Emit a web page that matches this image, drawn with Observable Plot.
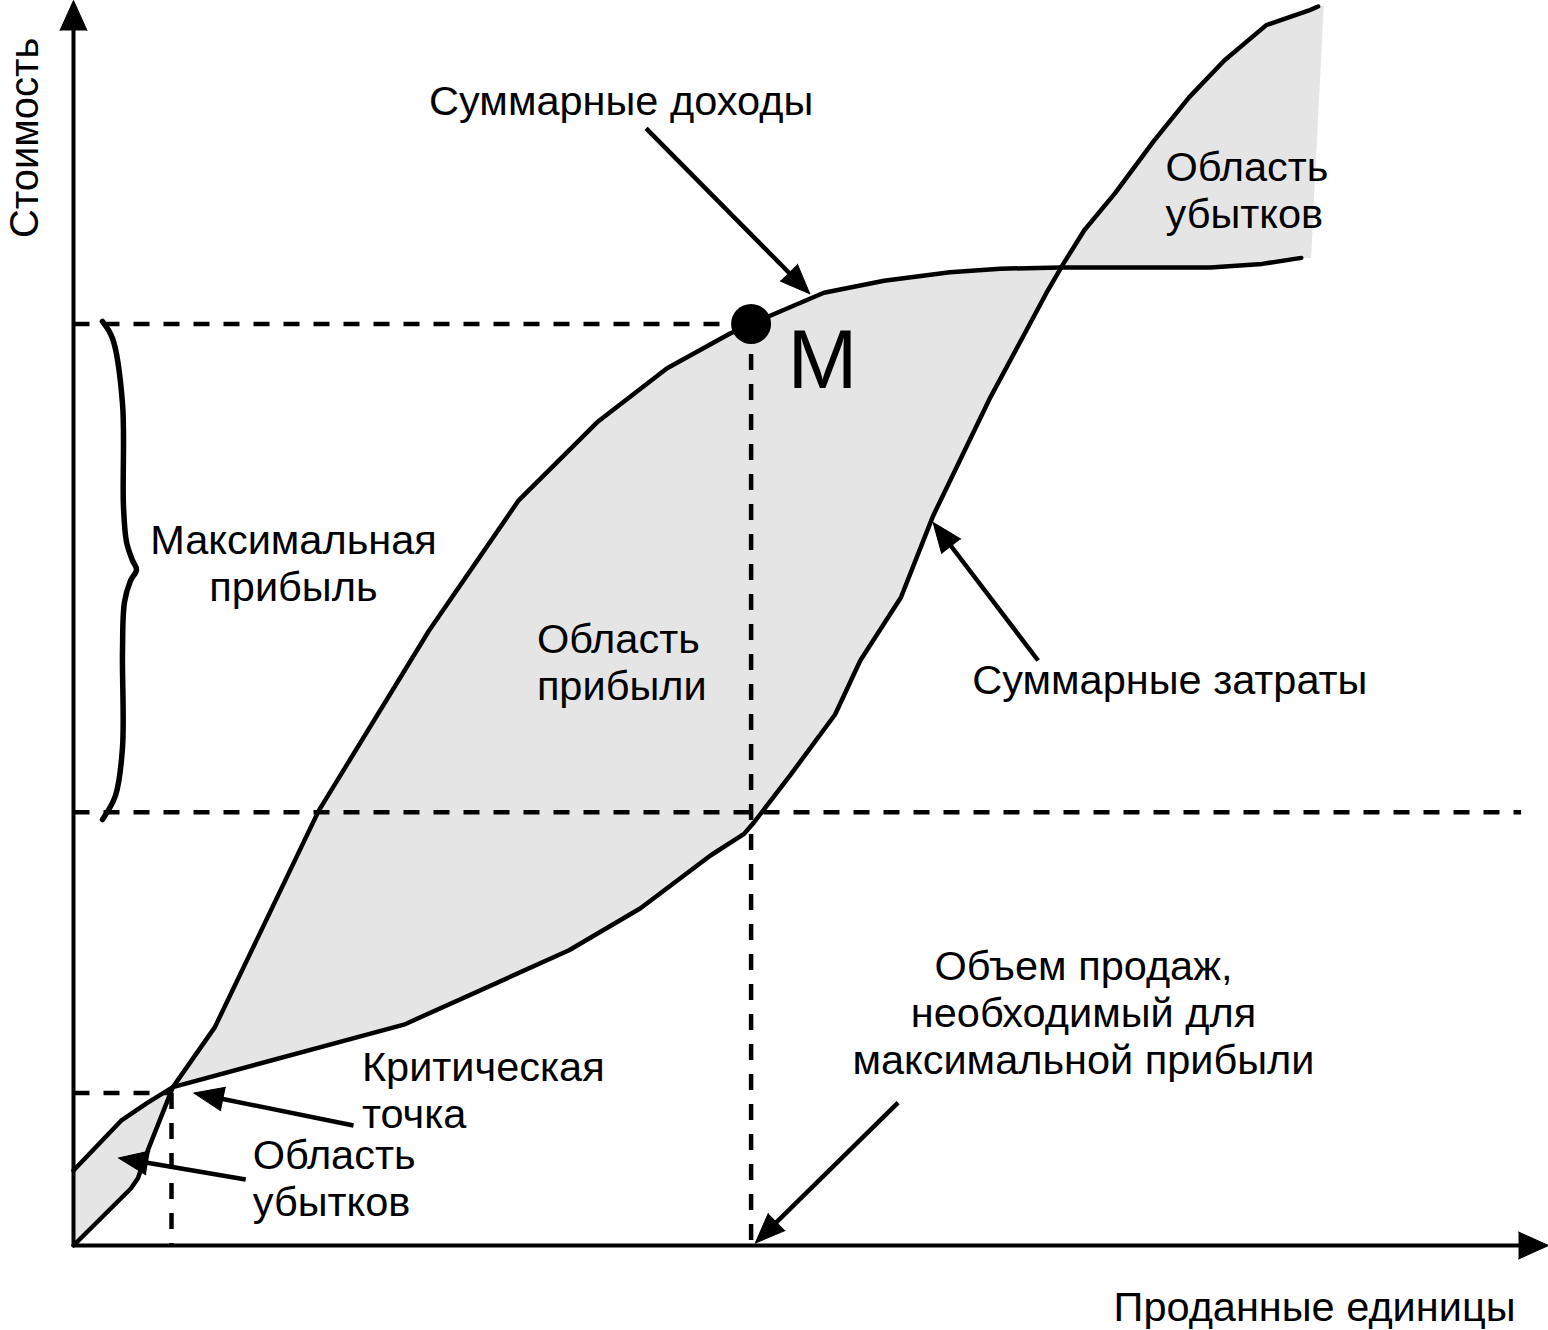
<!DOCTYPE html>
<html><head><meta charset="utf-8">
<script src="https://cdn.jsdelivr.net/npm/d3@7"></script>
<script src="https://cdn.jsdelivr.net/npm/@observablehq/plot@0.6"></script>
<style>html,body{margin:0;padding:0;background:#fff;}</style>
</head><body><div id="chart"></div>
<script>
// ---- data (units sold 0..100, value 0..100) ----
const revenueX = [0, 4.1, 4.6, 5.3, 7.1, 10.1, 17.5, 25.4, 31.8, 37.4, 42.4, 46.9, 48.4, 49.8, 53.6, 57.9, 62.6, 66.2, 70.5, 81.2, 84.9, 87.7];
const revenueY = [0, 4.75, 5.6, 7.9, 13.2, 18.2, 36.2, 51.25, 62.1, 68.6, 73.1, 76.0, 76.8, 77.5, 79.4, 80.4, 81.1, 81.4, 81.5, 81.5, 81.8, 82.3];
const costX = [0, 3.4, 5.3, 7.1, 23.6, 35.4, 40.5, 45.5, 47.9, 48.6, 51.2, 54.4, 56.2, 59.1, 61.4, 65.5, 69.6, 70.7, 72.2, 74.4, 77.2, 79.7, 82.2, 85.2, 88.2, 88.9];
const costY = [6.25, 10.4, 11.9, 13.2, 18.4, 24.6, 28.1, 32.5, 34.3, 35.25, 39.2, 44.25, 48.75, 54.0, 60.8, 70.7, 79.6, 81.8, 84.6, 87.7, 92.1, 95.7, 98.75, 101.7, 102.9, 103.25];
const lossEdgeX = [88.4, 89.3];
const lossEdgeY = [82.3, 103.3];

const maxPointX = 48.4, maxPointY = 76.8;     // M
const costAtMaxY = 36.1;                        // total cost at M
const breakEvenX = 7.0, breakEvenY = 12.7;      // critical point guide
const guideRightX = 103.4;
const axisEndX = 105.36, axisEndY = 103.75;

const braceX = [2.07, 2.79, 3.5, 3.57, 3.79, 4.21, 4.5, 4.07, 3.64, 3.5, 3.5, 3.0, 2.07];
const braceY = [77.0, 75.58, 70.17, 61.58, 58.6, 57.1, 56.3, 55.4, 53.6, 49.58, 41.5, 37.5, 35.5];

const arrowTailX = [40.9, 68.9, 20.0, 12.3, 58.9];
const arrowTailY = [93.1, 48.75, 10.0, 5.5, 11.9];
const arrowTipX = [52.6, 61.4, 8.6, 3.2, 48.7];
const arrowTipY = [79.3, 60.25, 12.7, 7.3, 0.2];

const labelText = ["Суммарные доходы", "M", "Область\nубытков", "Максимальная\nприбыль", "Область\nприбыли",
  "Суммарные затраты", "Объем продаж,\nнеобходимый для\nмаксимальной прибыли", "Критическая\nточка", "Область\nубытков",
  "Проданные единицы"];
const labelX = [25.4, 51.0, 78.0, 15.71, 33.1, 64.2, 72.14, 20.6, 12.8, 103.0];
const labelY = [94.17, 71.5, 84.83, 53.67, 45.5, 46.0, 14.33, 9.83, 2.5, -6.25];
const labelAnchor = ["start", "start", "start", "middle", "start", "start", "middle", "start", "start", "end"];
const labelSize = [41.5, 84, 41.5, 41.5, 41.5, 41.5, 41.5, 41.5, 41.5, 41.5];
const yTitle = "Стоимость", yTitleX = -2.57, yTitleY = 92.3;

// ---- layout ----
const W = 1548, H = 1330, mL = 73, mR = 75, mT = 45, mB = 85;
const xs = d3.scaleLinear([0, 100], [mL, W - mR]);
const ys = d3.scaleLinear([0, 100], [H - mB, mT]);
const screenAngle = (x1, y1, x2, y2) => Math.atan2(xs(x2) - xs(x1), -(ys(y2) - ys(y1))) * 180 / Math.PI;

const revenue = revenueX.map((x, i) => ({x, y: revenueY[i]}));
const cost = costX.map((x, i) => ({x, y: costY[i]}));
const polygon = [...revenue, ...lossEdgeX.map((x, i) => ({x, y: lossEdgeY[i]})), ...cost.slice().reverse()];
const brace = braceX.map((x, i) => ({x, y: braceY[i]}));

const guides = [
  {x1: 0, y1: maxPointY, x2: maxPointX, y2: maxPointY},
  {x1: 0, y1: costAtMaxY, x2: guideRightX, y2: costAtMaxY},
  {x1: maxPointX, y1: maxPointY, x2: maxPointX, y2: 0},
  {x1: 0, y1: breakEvenY, x2: breakEvenX, y2: breakEvenY},
  {x1: breakEvenX, y1: breakEvenY, x2: breakEvenX, y2: 0}
];
const arrows = arrowTailX.map((x1, i) => ({x1, y1: arrowTailY[i], x2: arrowTipX[i], y2: arrowTipY[i],
  angle: screenAngle(x1, arrowTailY[i], arrowTipX[i], arrowTipY[i])}));
const axes = [
  {x1: 0, y1: 0, x2: axisEndX, y2: 0},
  {x1: 0, y1: 0, x2: 0, y2: axisEndY}
].map(d => ({...d, angle: screenAngle(d.x1, d.y1, d.x2, d.y2)}));
const labels = labelText.map((t, i) => ({t, x: labelX[i], y: labelY[i], anchor: labelAnchor[i], size: labelSize[i]}));

const font = "Liberation Sans, Arial, Helvetica, sans-serif";

const chart = Plot.plot({
  width: W, height: H,
  marginLeft: mL, marginRight: mR, marginTop: mT, marginBottom: mB,
  x: {domain: [0, 100], axis: null},
  y: {domain: [0, 100], axis: null},
  style: {fontFamily: font, background: "white", color: "black"},
  marks: [
    Plot.line(polygon, {x: "x", y: "y", fill: "#e5e5e5", stroke: "none"}),
    Plot.link(guides, {x1: "x1", y1: "y1", x2: "x2", y2: "y2", stroke: "black", strokeWidth: 4.5, strokeDasharray: "16,14"}),
    Plot.line(revenue, {x: "x", y: "y", stroke: "black", strokeWidth: 4.5, strokeLinejoin: "round"}),
    Plot.line(cost, {x: "x", y: "y", stroke: "black", strokeWidth: 4.5, strokeLinejoin: "round"}),
    Plot.line(brace, {x: "x", y: "y", stroke: "black", strokeWidth: 5.5, curve: "catmull-rom"}),
    Plot.dot([{x: maxPointX, y: maxPointY}], {x: "x", y: "y", r: 20, fill: "black"}),
    Plot.arrow(arrows, {x1: "x1", y1: "y1", x2: "x2", y2: "y2", stroke: "black", strokeWidth: 4.5, headLength: 0, insetEnd: 22, strokeLinecap: "butt"}),
    Plot.vector(arrows, {x: "x2", y: "y2", rotate: "angle", length: 30, r: 12, shape: "spike", anchor: "end", fill: "black", stroke: "black", strokeWidth: 1}),
    Plot.arrow(axes, {x1: "x1", y1: "y1", x2: "x2", y2: "y2", stroke: "black", strokeWidth: 4, headLength: 0, insetEnd: 26, strokeLinecap: "butt"}),
    Plot.vector(axes, {x: "x2", y: "y2", rotate: "angle", length: 30, r: 13.5, shape: "spike", anchor: "end", fill: "black", stroke: "black", strokeWidth: 1}),
    ...labels.map(l => Plot.text([l], {x: "x", y: "y", text: "t", textAnchor: l.anchor, lineAnchor: "bottom",
      lineHeight: 47 / l.size, fontSize: l.size, fontFamily: font, fill: "black"})),
    Plot.text([{t: yTitle, x: yTitleX, y: yTitleY}], {x: "x", y: "y", text: "t", rotate: -90, textAnchor: "middle",
      lineAnchor: "bottom", fontSize: 40, fontFamily: font, fill: "black"})
  ]
});
document.getElementById("chart").appendChild(chart);
</script>
</body></html>
